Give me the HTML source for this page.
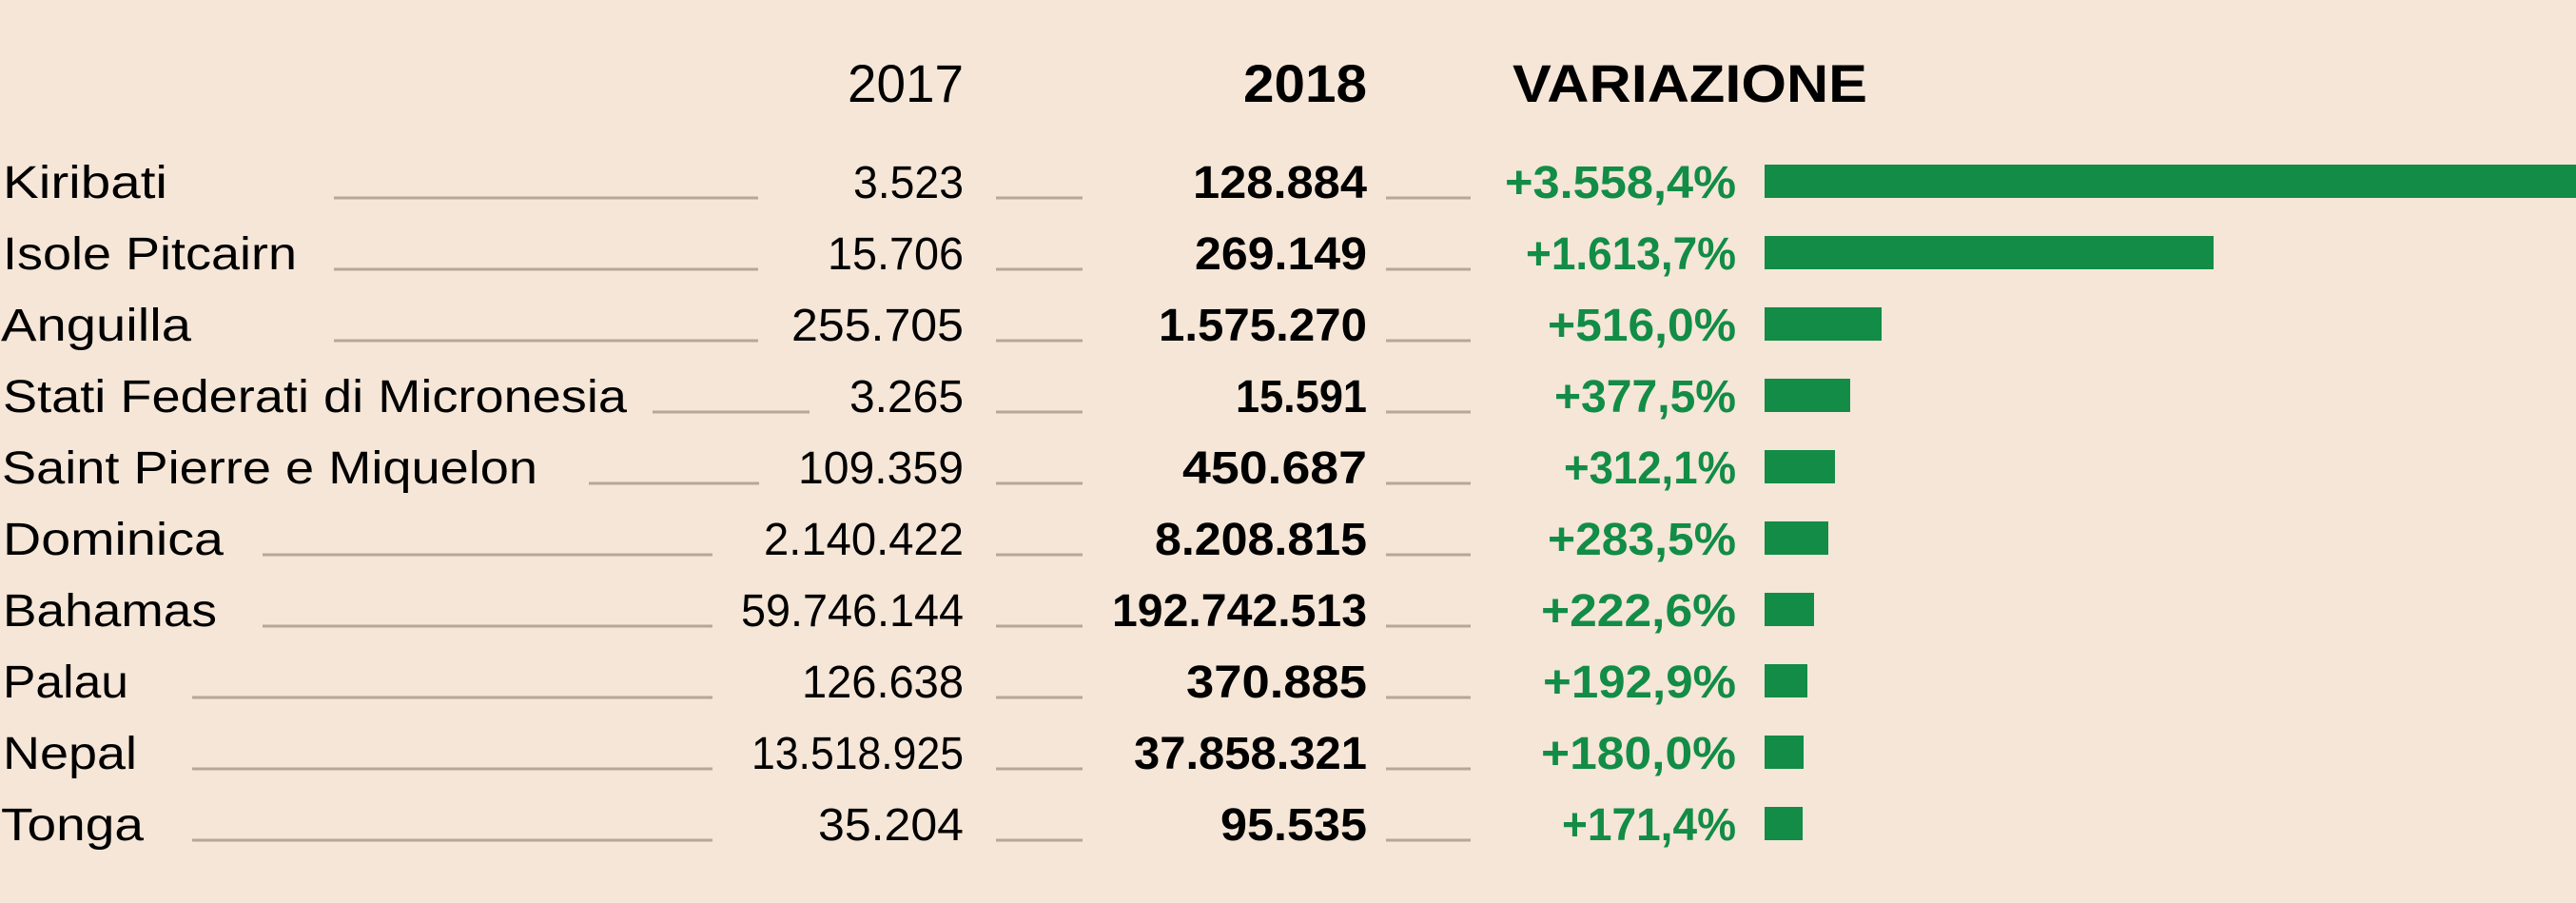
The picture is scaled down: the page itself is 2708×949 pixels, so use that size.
<!DOCTYPE html>
<html><head><meta charset="utf-8"><style>
html,body{margin:0;padding:0;background:#f5e6d7;}
svg{display:block;}
text{font-family:"Liberation Sans",sans-serif;}
</style></head><body>
<svg width="2708" height="949" viewBox="0 0 2708 949" xmlns="http://www.w3.org/2000/svg">
<rect width="2708" height="949" fill="#f5e6d7"/>
<g font-size="56" fill="#000">
<text x="1013" y="107" text-anchor="end" textLength="122" lengthAdjust="spacingAndGlyphs">2017</text>
<text x="1437" y="107" text-anchor="end" font-weight="bold" textLength="130" lengthAdjust="spacingAndGlyphs">2018</text>
<text x="1590" y="107" font-weight="bold" textLength="373" lengthAdjust="spacingAndGlyphs">VARIAZIONE</text>
</g>
<g stroke="#b8a796" stroke-width="3">
<line x1="351" y1="208" x2="797" y2="208"/><line x1="1047" y1="208" x2="1138" y2="208"/><line x1="1457" y1="208" x2="1546" y2="208"/>
<line x1="351" y1="283" x2="797" y2="283"/><line x1="1047" y1="283" x2="1138" y2="283"/><line x1="1457" y1="283" x2="1546" y2="283"/>
<line x1="351" y1="358" x2="797" y2="358"/><line x1="1047" y1="358" x2="1138" y2="358"/><line x1="1457" y1="358" x2="1546" y2="358"/>
<line x1="686" y1="433" x2="851" y2="433"/><line x1="1047" y1="433" x2="1138" y2="433"/><line x1="1457" y1="433" x2="1546" y2="433"/>
<line x1="619" y1="508" x2="798" y2="508"/><line x1="1047" y1="508" x2="1138" y2="508"/><line x1="1457" y1="508" x2="1546" y2="508"/>
<line x1="276" y1="583" x2="749" y2="583"/><line x1="1047" y1="583" x2="1138" y2="583"/><line x1="1457" y1="583" x2="1546" y2="583"/>
<line x1="276" y1="658" x2="749" y2="658"/><line x1="1047" y1="658" x2="1138" y2="658"/><line x1="1457" y1="658" x2="1546" y2="658"/>
<line x1="202" y1="733" x2="749" y2="733"/><line x1="1047" y1="733" x2="1138" y2="733"/><line x1="1457" y1="733" x2="1546" y2="733"/>
<line x1="202" y1="808" x2="749" y2="808"/><line x1="1047" y1="808" x2="1138" y2="808"/><line x1="1457" y1="808" x2="1546" y2="808"/>
<line x1="202" y1="883" x2="749" y2="883"/><line x1="1047" y1="883" x2="1138" y2="883"/><line x1="1457" y1="883" x2="1546" y2="883"/>
</g>
<g font-size="48" fill="#000">
<text x="3" y="208" textLength="173" lengthAdjust="spacingAndGlyphs">Kiribati</text>
<text x="3" y="283" textLength="309" lengthAdjust="spacingAndGlyphs">Isole Pitcairn</text>
<text x="1" y="358" textLength="200" lengthAdjust="spacingAndGlyphs">Anguilla</text>
<text x="3" y="433" textLength="656" lengthAdjust="spacingAndGlyphs">Stati Federati di Micronesia</text>
<text x="2" y="508" textLength="563" lengthAdjust="spacingAndGlyphs">Saint Pierre e Miquelon</text>
<text x="3" y="583" textLength="232" lengthAdjust="spacingAndGlyphs">Dominica</text>
<text x="3" y="658" textLength="225" lengthAdjust="spacingAndGlyphs">Bahamas</text>
<text x="3" y="733" textLength="132" lengthAdjust="spacingAndGlyphs">Palau</text>
<text x="3" y="808" textLength="141" lengthAdjust="spacingAndGlyphs">Nepal</text>
<text x="1" y="883" textLength="150" lengthAdjust="spacingAndGlyphs">Tonga</text>
</g>
<g font-size="48" fill="#000" text-anchor="end">
<text x="1013" y="208" textLength="116" lengthAdjust="spacingAndGlyphs">3.523</text>
<text x="1013" y="283" textLength="143" lengthAdjust="spacingAndGlyphs">15.706</text>
<text x="1013" y="358" textLength="181" lengthAdjust="spacingAndGlyphs">255.705</text>
<text x="1013" y="433" textLength="120" lengthAdjust="spacingAndGlyphs">3.265</text>
<text x="1013" y="508" textLength="174" lengthAdjust="spacingAndGlyphs">109.359</text>
<text x="1013" y="583" textLength="210" lengthAdjust="spacingAndGlyphs">2.140.422</text>
<text x="1013" y="658" textLength="234" lengthAdjust="spacingAndGlyphs">59.746.144</text>
<text x="1013" y="733" textLength="170" lengthAdjust="spacingAndGlyphs">126.638</text>
<text x="1013" y="808" textLength="223" lengthAdjust="spacingAndGlyphs">13.518.925</text>
<text x="1013" y="883" textLength="153" lengthAdjust="spacingAndGlyphs">35.204</text>
</g>
<g font-size="48" fill="#000" text-anchor="end" font-weight="bold">
<text x="1437" y="208" textLength="183" lengthAdjust="spacingAndGlyphs">128.884</text>
<text x="1437" y="283" textLength="181" lengthAdjust="spacingAndGlyphs">269.149</text>
<text x="1437" y="358" textLength="219" lengthAdjust="spacingAndGlyphs">1.575.270</text>
<text x="1437" y="433" textLength="138" lengthAdjust="spacingAndGlyphs">15.591</text>
<text x="1437" y="508" textLength="194" lengthAdjust="spacingAndGlyphs">450.687</text>
<text x="1437" y="583" textLength="223" lengthAdjust="spacingAndGlyphs">8.208.815</text>
<text x="1437" y="658" textLength="268" lengthAdjust="spacingAndGlyphs">192.742.513</text>
<text x="1437" y="733" textLength="190" lengthAdjust="spacingAndGlyphs">370.885</text>
<text x="1437" y="808" textLength="245" lengthAdjust="spacingAndGlyphs">37.858.321</text>
<text x="1437" y="883" textLength="154" lengthAdjust="spacingAndGlyphs">95.535</text>
</g>
<g font-size="48" fill="#128c46" text-anchor="end" font-weight="bold">
<text x="1825" y="208" textLength="243" lengthAdjust="spacingAndGlyphs">+3.558,4%</text>
<text x="1825" y="283" textLength="221" lengthAdjust="spacingAndGlyphs">+1.613,7%</text>
<text x="1825" y="358" textLength="198" lengthAdjust="spacingAndGlyphs">+516,0%</text>
<text x="1825" y="433" textLength="191" lengthAdjust="spacingAndGlyphs">+377,5%</text>
<text x="1825" y="508" textLength="181" lengthAdjust="spacingAndGlyphs">+312,1%</text>
<text x="1825" y="583" textLength="198" lengthAdjust="spacingAndGlyphs">+283,5%</text>
<text x="1825" y="658" textLength="205" lengthAdjust="spacingAndGlyphs">+222,6%</text>
<text x="1825" y="733" textLength="203" lengthAdjust="spacingAndGlyphs">+192,9%</text>
<text x="1825" y="808" textLength="205" lengthAdjust="spacingAndGlyphs">+180,0%</text>
<text x="1825" y="883" textLength="183" lengthAdjust="spacingAndGlyphs">+171,4%</text>
</g>
<g fill="#128c46">
<rect x="1855" y="173" width="853" height="35"/>
<rect x="1855" y="248" width="472" height="35"/>
<rect x="1855" y="323" width="123" height="35"/>
<rect x="1855" y="398" width="90" height="35"/>
<rect x="1855" y="473" width="74" height="35"/>
<rect x="1855" y="548" width="67" height="35"/>
<rect x="1855" y="623" width="52" height="35"/>
<rect x="1855" y="698" width="45" height="35"/>
<rect x="1855" y="773" width="41" height="35"/>
<rect x="1855" y="848" width="40" height="35"/>
</g>
</svg>
</body></html>
